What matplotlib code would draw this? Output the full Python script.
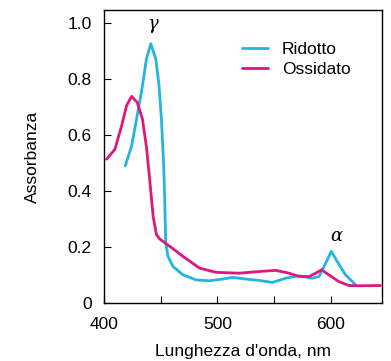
import numpy as np
import matplotlib
matplotlib.use("Agg")
import matplotlib.pyplot as plt

plt.rcParams.update({'font.family': ['Liberation Sans', 'DejaVu Sans']})
plt.rcParams.update({'font.size': 12.5})

# spettro ridotto (ciano)
rid_x = [418.7, 424.3, 428.7, 433.9, 437.4, 441.2, 445.6, 448.5, 450.6, 452.6,
         453.5, 454.4, 456.4, 460.8, 469.6, 481.2, 493.0, 504.6, 513.4, 525.1,
         536.8, 548.4, 560.1, 571.8, 583.6, 589.5, 595.4, 600.3, 605.5, 612.9,
         621.6]
rid_y = [0.489, 0.560, 0.656, 0.775, 0.871, 0.925, 0.871, 0.775, 0.656, 0.489,
         0.369, 0.214, 0.166, 0.130, 0.100, 0.082, 0.079, 0.085, 0.091, 0.085,
         0.080, 0.073, 0.088, 0.097, 0.088, 0.094, 0.142, 0.184, 0.148, 0.100,
         0.065]

# spettro ossidato (magenta)
oss_x = [402.3, 409.6, 415.5, 419.9, 424.3, 429.2, 433.9, 437.4, 440.4, 443.3,
         446.2, 449.1, 457.9, 469.6, 484.2, 498.8, 519.3, 536.8, 551.4, 563.1,
         571.9, 580.7, 586.5, 591.8, 598.2, 607.0, 615.8, 624.6, 643.6]
oss_y = [0.513, 0.548, 0.632, 0.704, 0.737, 0.716, 0.656, 0.556, 0.435, 0.309,
         0.244, 0.228, 0.202, 0.166, 0.124, 0.109, 0.106, 0.112, 0.116, 0.106,
         0.094, 0.094, 0.106, 0.118, 0.100, 0.076, 0.062, 0.061, 0.062]

xticks = [400, 450, 500, 550, 600]
xticklabels = ['400', '', '500', '', '600']
yticks = [0, 0.2, 0.4, 0.6, 0.8, 1.0]
yticklabels = ['0', '0.2', '0.4', '0.6', '0.8', '1.0']

fig = plt.figure(figsize=(3.91, 3.61), dpi=100)
ax = fig.add_axes([0.266, 0.161, 0.711, 0.811])

ax.plot(rid_x, rid_y, color='#22b4e2', lw=2.0, label='Ridotto',
        solid_capstyle='round', solid_joinstyle='round')
ax.plot(oss_x, oss_y, color='#e0157d', lw=2.0, label='Ossidato',
        solid_capstyle='round', solid_joinstyle='round')

ax.text(443, 0.995, 'γ', ha='center', va='center', fontsize=13,
        family='DejaVu Serif', style='italic')
ax.text(604.4, 0.237, 'α', ha='center', va='center', fontsize=13,
        family='DejaVu Serif', style='italic')

ax.set_xlim(400, 645)
ax.set_ylim(0, 1.045)
ax.set_xticks(xticks)
ax.set_xticklabels(xticklabels)
ax.set_yticks(yticks)
ax.set_yticklabels(yticklabels)
ax.tick_params(direction='in', length=5, width=0.8)
ax.tick_params(axis='x', pad=10)
ax.tick_params(axis='y', pad=9)
for s in ax.spines.values():
    s.set_linewidth(1.0)

ax.set_xlabel("Lunghezza d'onda, nm", labelpad=9)
ax.set_ylabel("Assorbanza", labelpad=20)

ax.legend(loc='upper left', frameon=False, bbox_to_anchor=(0.44, 0.945),
          handlelength=1.5, handletextpad=0.8, labelspacing=0.3, fontsize=12.5)

plt.savefig("out.png", dpi=100)
